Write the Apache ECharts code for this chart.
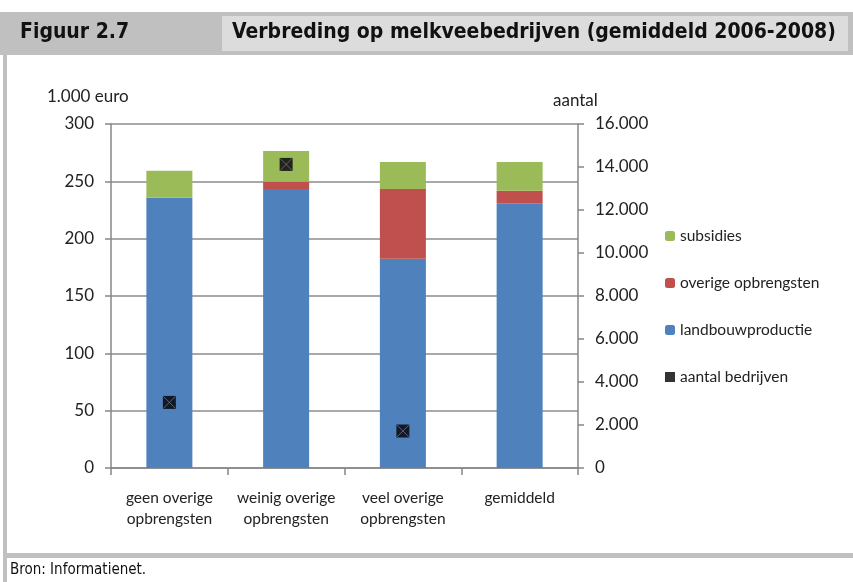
<!DOCTYPE html>
<html>
<head>
<meta charset="utf-8">
<script src="https://cdn.jsdelivr.net/npm/echarts@6/dist/echarts.min.js"></script>
<style>
  html,body{margin:0;padding:0;background:#fff;}
  #chart{width:853px;height:582px;}
</style>
</head>
<body>
<div id="chart"></div>
<script>
/* Figuur 2.7 - verbreding op melkveebedrijven */

const categorieen=["geen overige\nopbrengsten","weinig overige\nopbrengsten","veel overige\nopbrengsten","gemiddeld"];

const landbouwproductie=[235.7,243.3,182.5,230.8];
const overigeOpbrengsten=[-1,6.4,60.8,11];
const subsidies=[23.6,26.7,23.6,25.1];
const aantalBedrijven=[3050,14120,1720,null];

const linksTicks=[0,50,100,150,200,250,300];
const rechtsTicks=[0,2000,4000,6000,8000,10000,12000,14000,16000];

const fontChart="Lato, 'Open Sans', sans-serif";
const fontNarrow="'Liberation Sans Narrow', 'DejaVu Sans Condensed', sans-serif";

const chart=echarts.init(document.getElementById("chart"));

function punt(v){
    return String(v).replace(/\B(?=(\d{3})+(?!\d))/g,".");
}

const option={

    animation:false,

    graphic:[
        {type:"rect",shape:{x:0,y:12,width:853,height:43},style:{fill:"#c0c0c0"}},
        {type:"rect",shape:{x:222,y:16,width:626,height:35},style:{fill:"#dcdcdc"}},
        {type:"rect",shape:{x:3,y:55,width:4,height:527},style:{fill:"#c0c0c0"}},
        {type:"rect",shape:{x:3,y:553,width:850,height:5},style:{fill:"#c0c0c0"}},
        {type:"text",left:20,top:22,style:{text:"Figuur 2.7",font:"bold 21px "+fontNarrow,fill:"#111"}},
        {type:"text",left:232,top:22,style:{text:"Verbreding op melkveebedrijven (gemiddeld 2006-2008)",font:"bold 21px "+fontNarrow,fill:"#111"}},
        {type:"text",left:10,top:563,style:{text:"Bron: Informatienet.",font:"15px "+fontNarrow,fill:"#111"}},
        {type:"text",left:47,top:88,style:{text:"1.000 euro",font:"17px "+fontChart,fill:"#222"}},
        {type:"text",left:553,top:92,style:{text:"aantal",font:"17px "+fontChart,fill:"#222"}}
    ],

    grid:{
        left:111,
        right:275,
        top:124,
        bottom:114
    },

    legend:{
        orient:"vertical",
        left:665,
        top:228,
        padding:0,
        itemWidth:10,
        itemHeight:10,
        itemGap:31,
        data:[
            "subsidies",
            "overige opbrengsten",
            "landbouwproductie",
            {name:"aantal bedrijven",icon:"path://M0,0H10V10H0ZM1,1L9,9M9,1L1,9"}
        ],
        textStyle:{
            fontFamily:fontChart,
            fontSize:15.5,
            color:"#222"
        }
    },

    xAxis:{
        type:"category",
        data:categorieen,
        axisLine:{lineStyle:{color:"#878787",width:1.5}},
        axisTick:{show:true,length:7,lineStyle:{color:"#878787",width:1.5}},
        axisLabel:{
            interval:0,
            margin:19,
            fontFamily:fontChart,
            fontSize:15.5,
            lineHeight:21,
            color:"#222"
        }
    },

    yAxis:[
        {
            type:"value",
            min:linksTicks[0],
            max:linksTicks[linksTicks.length-1],
            interval:50,
            axisLine:{show:true,lineStyle:{color:"#878787",width:1.5}},
            axisTick:{show:true,length:6,lineStyle:{color:"#878787",width:1.5}},
            splitLine:{lineStyle:{color:"#8c8c8c",width:1.5}},
            axisLabel:{
                margin:17,
                fontFamily:fontChart,
                fontSize:17,
                color:"#222"
            }
        },
        {
            type:"value",
            min:rechtsTicks[0],
            max:rechtsTicks[rechtsTicks.length-1],
            interval:2000,
            position:"right",
            axisLine:{show:true,lineStyle:{color:"#878787",width:1.5}},
            axisTick:{show:true,length:6,lineStyle:{color:"#878787",width:1.5}},
            splitLine:{show:false},
            axisLabel:{
                margin:17,
                fontFamily:fontChart,
                fontSize:17,
                color:"#222",
                formatter:v=>punt(v)
            }
        }
    ],

    series:[
        {
            name:"landbouwproductie",
            type:"bar",
            stack:"totaal",
            barWidth:46,
            data:landbouwproductie,
            itemStyle:{color:"#4f81bd"}
        },
        {
            name:"overige opbrengsten",
            type:"bar",
            stack:"totaal",
            barWidth:46,
            data:overigeOpbrengsten,
            itemStyle:{color:"#c0504d"}
        },
        {
            name:"subsidies",
            type:"bar",
            stack:"totaal",
            barWidth:46,
            data:subsidies,
            itemStyle:{color:"#9bbb59"}
        },
        {
            name:"aantal bedrijven",
            type:"scatter",
            yAxisIndex:1,
            symbol:"rect",
            symbolSize:13,
            data:aantalBedrijven,
            itemStyle:{color:"#000"},
            z:5
        },
        {
            name:"aantal bedrijven",
            type:"scatter",
            yAxisIndex:1,
            symbol:"path://M0,0L10,10M10,0L0,10",
            symbolSize:12,
            data:aantalBedrijven,
            itemStyle:{color:"rgba(0,0,0,0)",borderColor:"#8064a2",borderWidth:1},
            z:6
        }
    ]

};

chart.setOption(option);
</script>
</body>
</html>
